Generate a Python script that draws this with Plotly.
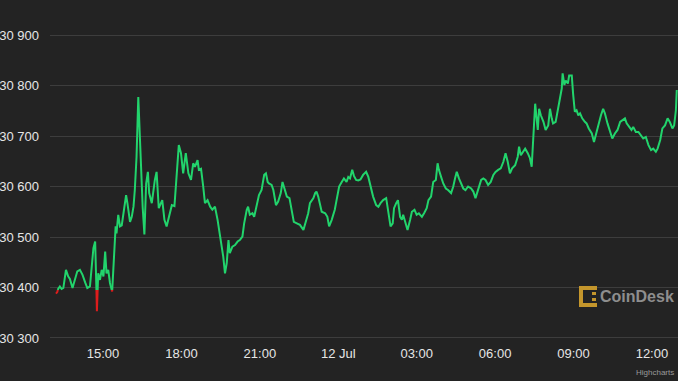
import plotly.graph_objects as go
from datetime import datetime, timedelta

# ---- data (BTC price, 11-12 Jul) ----
clock = ["13:12","13:15","13:17","13:21","13:25","13:29","13:35","13:40","13:44","13:50",
"13:56","14:01","14:07","14:13","14:19","14:24","14:30","14:34","14:38","14:42",
"14:44","14:45","14:46","14:49","14:53","14:57","15:01","15:05","15:08","15:12",
"15:16","15:21","15:25","15:29","15:31","15:35","15:39","15:43","15:47","15:53",
"15:56","16:02","16:06","16:10","16:13","16:17","16:21","16:23","16:27","16:31",
"16:35","16:39","16:43","16:46","16:52","16:55","16:59","17:03","17:08","17:16",
"17:21","17:26","17:31","17:38","17:44","17:49","17:54","17:59","18:04","18:10",
"18:16","18:22","18:27","18:31","18:37","18:40","18:45","18:50","18:54","19:00",
"19:06","19:11","19:17","19:23","19:29","19:32","19:36","19:40","19:44","19:48",
"19:51","19:57","20:03","20:09","20:14","20:20","20:24","20:30","20:33","20:37",
"20:43","20:47","20:53","20:58","21:04","21:10","21:14","21:18","21:21","21:27",
"21:31","21:37","21:42","21:48","21:52","21:58","22:02","22:08","22:13","22:18",
"22:25","22:32","22:40","22:46","22:51","22:55","22:59","23:03","23:07","23:10",
"23:14","23:18","23:22","23:30","23:35","23:39","23:45","23:52","23:56","00:02",
"00:08","00:13","00:19","00:23","00:27","00:32","00:36","00:41","00:46","00:51",
"00:57","01:04","01:09","01:14","01:20","01:27","01:32","01:37","01:43","01:50",
"01:53","01:57","02:00","02:05","02:08","02:13","02:17","02:22","02:26","02:29",
"02:33","02:39","02:45","02:49","02:55","03:00","03:05","03:12","03:17","03:23",
"03:27","03:33","03:38","03:44","03:48","03:51","03:56","04:01","04:07","04:12",
"04:19","04:24","04:28","04:32","04:37","04:42","04:47","04:52","04:58","05:05",
"05:10","05:15","05:21","05:28","05:33","05:38","05:44","05:50","05:56","06:01",
"06:07","06:13","06:19","06:24","06:29","06:34","06:39","06:46","06:52","06:55",
"06:59","07:05","07:09","07:15","07:20","07:24","07:28","07:32","07:35","07:38",
"07:41","07:45","07:51","07:56","08:02","08:06","08:10","08:13","08:19","08:24",
"08:29","08:33","08:35","08:39","08:42","08:47","08:50","08:56","08:59","09:03",
"09:07","09:11","09:15","09:20","09:26","09:30","09:35","09:42","09:47","09:51",
"09:57","10:03","10:08","10:12","10:18","10:24","10:29","10:35","10:41","10:47",
"10:52","10:58","11:02","11:07","11:13","11:17","11:23","11:29","11:35","11:40",
"11:46","11:52","11:58","12:03","12:09","12:13","12:19","12:24","12:30","12:36",
"12:41","12:47","12:51","12:55","12:57"]

price = [30388,30391,30397,30402,30397,30399,30435,30422,30417,30399,
30415,30432,30435,30425,30410,30399,30402,30441,30478,30491,
30441,30392,30353,30428,30415,30435,30422,30471,30428,30435,
30409,30392,30461,30521,30507,30544,30521,30523,30547,30583,
30567,30530,30540,30560,30593,30659,30777,30731,30639,30560,
30505,30606,30629,30587,30567,30593,30613,30629,30557,30573,
30534,30521,30540,30563,30561,30613,30682,30666,30626,30666,
30626,30613,30646,30639,30652,30633,30635,30600,30567,30573,
30560,30554,30560,30534,30504,30488,30461,30428,30448,30494,
30468,30481,30484,30491,30494,30501,30527,30554,30560,30544,
30547,30540,30567,30583,30593,30623,30626,30609,30606,30603,
30593,30563,30570,30587,30609,30590,30580,30577,30554,30530,
30527,30524,30514,30530,30547,30567,30573,30577,30587,30590,
30580,30563,30550,30547,30540,30521,30534,30554,30573,30600,
30609,30616,30609,30619,30616,30633,30621,30613,30612,30614,
30623,30629,30619,30600,30580,30563,30560,30567,30573,30577,
30560,30534,30521,30527,30557,30567,30573,30540,30534,30544,
30530,30514,30534,30550,30554,30544,30547,30540,30547,30557,
30573,30580,30609,30613,30646,30633,30619,30606,30596,30593,
30587,30600,30616,30629,30616,30606,30596,30593,30600,30596,
30590,30577,30593,30613,30616,30613,30603,30609,30623,30629,
30633,30636,30649,30666,30649,30626,30636,30642,30659,30679,
30662,30669,30675,30666,30656,30639,30698,30764,30738,30712,
30754,30741,30728,30712,30721,30754,30735,30725,30728,30751,
30774,30794,30824,30801,30810,30804,30820,30820,30784,30748,
30751,30741,30745,30735,30728,30725,30715,30705,30688,30702,
30725,30741,30754,30745,30725,30708,30695,30705,30712,30728,
30731,30735,30725,30718,30712,30718,30708,30708,30702,30695,
30698,30682,30672,30675,30669,30675,30692,30715,30721,30735,
30728,30715,30721,30751,30791]

open_price = 30395  # below this the line is drawn red

tick_times = ["2023-07-11 15:00", "2023-07-11 18:00", "2023-07-11 21:00", "2023-07-12 00:00",
              "2023-07-12 03:00", "2023-07-12 06:00", "2023-07-12 09:00", "2023-07-12 12:00"]
tick_text = ["15:00", "18:00", "21:00", "12 Jul", "03:00", "06:00", "09:00", "12:00"]
y_ticks = [30300, 30400, 30500, 30600, 30700, 30800, 30900]
y_text = ["30 300", "30 400", "30 500", "30 600", "30 700", "30 800", "30 900"]

# ---- build timestamps (day rolls over after midnight) ----
times = []
day = datetime(2023, 7, 11)
prev_h = -1
for c in clock:
    h, m = map(int, c.split(":"))
    if h < prev_h:
        day = day + timedelta(days=1)
    prev_h = h
    times.append(day + timedelta(hours=h, minutes=m))

# ---- split into green / red pieces at threshold crossings ----
pts = [(times[0], price[0])]
for i in range(1, len(times)):
    t0, v0 = times[i - 1], price[i - 1]
    t1, v1 = times[i], price[i]
    if (v0 - open_price) * (v1 - open_price) < 0:
        f = (open_price - v0) / (v1 - v0)
        pts.append((t0 + (t1 - t0) * f, open_price))
    pts.append((t1, v1))

gx, gy, rx, ry = [], [], [], []
last = None
for (ta, va), (tb, vb) in zip(pts[:-1], pts[1:]):
    col = "g" if (va + vb) / 2 >= open_price else "r"
    X, Y = (gx, gy) if col == "g" else (rx, ry)
    if last != col:
        if X:
            X.append(None); Y.append(None)
        X.append(ta); Y.append(va)
    X.append(tb); Y.append(vb)
    last = col

GREEN = "#22d46c"
RED = "#dd1c1c"
BG = "#232323"
GRID = "#3d3d3d"
LABEL = "#e6e6e6"

fig = go.Figure()
fig.add_trace(go.Scatter(x=gx, y=gy, mode="lines", line=dict(color=GREEN, width=2), hoverinfo="skip"))
fig.add_trace(go.Scatter(x=rx, y=ry, mode="lines", line=dict(color=RED, width=2), hoverinfo="skip"))

W, H = 678, 381
ML, MR, MT, MB = 50, 0, 34, 42

def px(x):
    return (x - ML) / (W - ML - MR)

def py(y):
    return 1 - (y - MT) / (H - MT - MB)

# CoinDesk logo (decorative)
GOLD = "#c4962c"
shapes = []
for (x0, y0, x1, y1) in [(579, 286, 583, 307), (579, 286, 597, 290), (579, 303, 597, 307),
                         (592, 292, 596, 295), (592, 298, 596, 301)]:
    shapes.append(dict(type="rect", xref="paper", yref="paper", x0=px(x0), x1=px(x1),
                       y0=py(y1), y1=py(y0), fillcolor=GOLD, line=dict(width=0), layer="above"))

fig.update_layout(
    width=W, height=H,
    margin=dict(l=ML, r=MR, t=MT, b=MB),
    paper_bgcolor=BG, plot_bgcolor=BG,
    showlegend=False,
    font=dict(family="Liberation Sans, Arial, sans-serif", color=LABEL, size=13),
    xaxis=dict(
        type="date",
        range=["2023-07-11 12:58:20", "2023-07-12 12:59:50"],
        tickvals=tick_times, ticktext=tick_text,
        showgrid=False, zeroline=False, showline=False,
        ticks="", ticklabelstandoff=5,
        tickfont=dict(size=13, color=LABEL),
        automargin=False,
    ),
    yaxis=dict(
        range=[30298, 30902],
        tickvals=y_ticks, ticktext=y_text,
        showgrid=True, gridcolor=GRID, gridwidth=1,
        zeroline=False, showline=False, ticks="",
        ticklabelstandoff=10,
        tickfont=dict(size=13, color=LABEL),
        automargin=False,
    ),
    shapes=shapes,
    annotations=[
        dict(text="<b>CoinDesk</b>", xref="paper", yref="paper", x=px(599), y=py(296),
             xanchor="left", yanchor="middle", showarrow=False, borderpad=0,
             font=dict(size=16, color="#8e8e8e", family="Liberation Sans, Arial, sans-serif")),
        dict(text="Highcharts", xref="paper", yref="paper", x=px(676), y=py(372),
             xanchor="right", yanchor="middle", showarrow=False,
             font=dict(size=8, color="#9a9a9a", family="Liberation Sans, Arial, sans-serif")),
    ],
)

fig.write_html("out.html", config={"displayModeBar": False},
               post_script="document.body.style.margin='0';document.body.style.background='" + BG + "';")
